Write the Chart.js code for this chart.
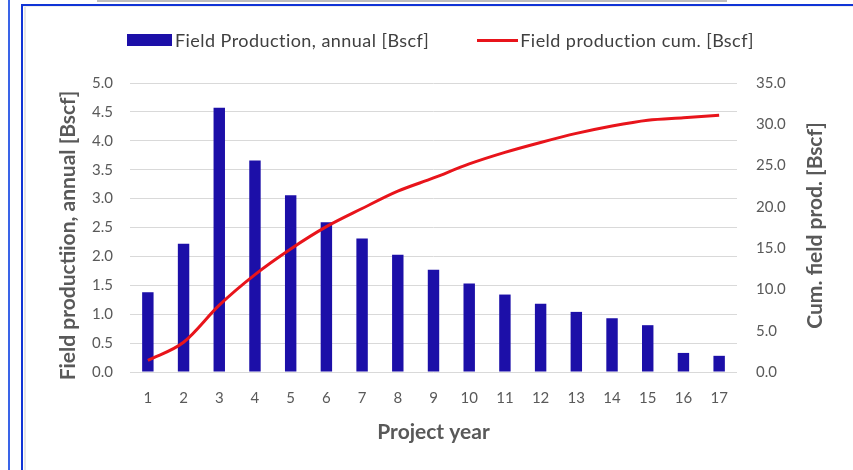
<!DOCTYPE html>
<html>
<head>
<meta charset="utf-8">
<script src="https://cdn.jsdelivr.net/npm/chart.js@4.4.1/dist/chart.umd.min.js"></script>
<style>
  html, body { margin:0; padding:0; background:#fff; }
  body { width:853px; height:470px; position:relative; overflow:hidden; font-family: Lato, "Open Sans", sans-serif; }
  .gray-top { position:absolute; left:97px; top:0; width:630px; height:2px; background:#bdbdbd; }
  .vline-light { position:absolute; left:8px; top:0; width:2px; height:470px; background:#3a64e8; }
  .vline { position:absolute; left:21px; top:4px; width:2px; height:466px; background:#1034d6; }
  .hline { position:absolute; left:21px; top:4px; width:832px; height:2px; background:#1034d6; }
  .shade { position:absolute; left:24px; top:6px; width:2px; height:464px; background:#e6e6e6; }
  .shade-top { position:absolute; left:23px; top:6px; width:830px; height:1px; background:#eeeeee; }
  #wrap { position:absolute; left:26px; top:7px; width:827px; height:463px; }
  #legend { position:absolute; left:127px; top:29px; height:22px; display:flex; align-items:center; font-size:18px; letter-spacing:0.45px; color:#404040; white-space:nowrap; }
  .item { display:flex; align-items:center; }
  .sw-bar { width:45px; height:12px; margin-right:3px; }
  .sw-line { width:41px; height:3px; margin-right:2px; }
  .gap { width:48px; }
</style>
</head>
<body>
<div class="gray-top"></div>
<div class="vline-light"></div>
<div class="hline"></div>
<div class="vline"></div>
<div class="shade"></div>
<div class="shade-top"></div>
<div id="wrap"><canvas id="c" width="827" height="463"></canvas></div>
<div id="legend"></div>
<script>
const categories = ["1","2","3","4","5","6","7","8","9","10","11","12","13","14","15","16","17"];
const annualProduction = [1.38, 2.22, 4.57, 3.66, 3.06, 2.59, 2.31, 2.03, 1.77, 1.53, 1.34, 1.18, 1.04, 0.93, 0.81, 0.33, 0.28];
const cumulativeProduction = [1.4, 3.6, 8.1, 11.8, 14.9, 17.6, 19.8, 21.9, 23.5, 25.2, 26.6, 27.8, 28.9, 29.8, 30.5, 30.8, 31.1];
const leftTicks = [0, 0.5, 1, 1.5, 2, 2.5, 3, 3.5, 4, 4.5, 5];
const rightTicks = [0, 5, 10, 15, 20, 25, 30, 35];
const annualLabel = "Field Production, annual [Bscf]";
const cumLabel = "Field production cum. [Bscf]";
const leftTitle = "Field productiion, annual [Bscf]";
const rightTitle = "Cum. field prod. [Bscf]";
const xTitle = "Project year";

const BAR = "#1c0fa8";
const RED = "#e8141b";
const TXT = "#595959";
const TITLE_FONT = "bold 21px Lato";

const yTitlesPlugin = {
  id: 'yTitles',
  afterDraw(chart) {
    const ctx = chart.ctx;
    const a = chart.chartArea;
    const mid = (a.top + a.bottom) / 2;
    ctx.save();
    ctx.fillStyle = TXT;
    ctx.font = TITLE_FONT;
    ctx.textAlign = "center";
    ctx.textBaseline = "middle";
    // left title
    ctx.save();
    ctx.translate(42, mid + 8);
    ctx.rotate(-Math.PI / 2);
    ctx.fillText(leftTitle, 0, 0);
    ctx.restore();
    // right title
    ctx.save();
    ctx.translate(789, mid - 2);
    ctx.rotate(-Math.PI / 2);
    ctx.fillText(rightTitle, 0, 0);
    ctx.restore();
    ctx.restore();
  }
};

const chart = new Chart(document.getElementById('c'), {
  type: 'bar',
  data: {
    labels: categories,
    datasets: [
      {
        type: 'line',
        label: cumLabel,
        data: cumulativeProduction,
        yAxisID: 'y1',
        borderColor: RED,
        backgroundColor: RED,
        borderWidth: 3,
        pointRadius: 0,
        tension: 0.4,
        cubicInterpolationMode: 'monotone',
        order: 0
      },
      {
        type: 'bar',
        label: annualLabel,
        data: annualProduction,
        yAxisID: 'y',
        backgroundColor: BAR,
        borderWidth: 0,
        categoryPercentage: 1,
        barPercentage: 0.32,
        order: 1
      }
    ]
  },
  options: {
    responsive: false,
    animation: false,
    layout: { padding: { top: 76, left: 0, right: 0, bottom: 0 } },
    plugins: { legend: { display: false }, tooltip: { enabled: false } },
    scales: {
      x: {
        grid: { display: false, drawTicks: false },
        border: { display: false },
        ticks: { color: TXT, font: { family: 'Lato', size: 15 }, padding: 17, maxRotation: 0 },
        title: { display: true, text: xTitle, color: TXT, font: { family: 'Lato', size: 21, weight: 'bold' }, padding: { bottom: 25 } },
        afterFit(s) { s.height = 98; }
      },
      y: {
        position: 'left',
        min: 0, max: 5,
        afterBuildTicks(s) { s.ticks = leftTicks.map(v => ({ value: v })); },
        grid: { color: '#d9d9d9', lineWidth: 1, drawTicks: false },
        border: { display: false },
        ticks: { color: TXT, font: { family: 'Lato', size: 15 }, padding: 17, callback: v => Number(v).toFixed(1) },
        afterFit(s) { s.width = 104; }
      },
      y1: {
        position: 'right',
        min: 0, max: 35,
        afterBuildTicks(s) { s.ticks = rightTicks.map(v => ({ value: v })); },
        grid: { display: false, drawTicks: false },
        border: { display: false },
        ticks: { color: TXT, font: { family: 'Lato', size: 15 }, padding: 19, callback: v => Number(v).toFixed(1) },
        afterFit(s) { s.width = 116; }
      }
    }
  },
  plugins: [yTitlesPlugin]
});

// HTML legend built from the chart's datasets
const legend = document.getElementById('legend');
const legendOrder = [1, 0];
legendOrder.forEach((idx, k) => {
  const ds = chart.data.datasets[idx];
  if (k > 0) { const g = document.createElement('div'); g.className = 'gap'; legend.appendChild(g); }
  const item = document.createElement('div'); item.className = 'item';
  const sw = document.createElement('div');
  sw.className = ds.type === 'line' ? 'sw-line' : 'sw-bar';
  sw.style.background = ds.type === 'line' ? ds.borderColor : ds.backgroundColor;
  const t = document.createElement('span'); t.textContent = ds.label;
  item.appendChild(sw); item.appendChild(t);
  legend.appendChild(item);
});
</script>
</body>
</html>
